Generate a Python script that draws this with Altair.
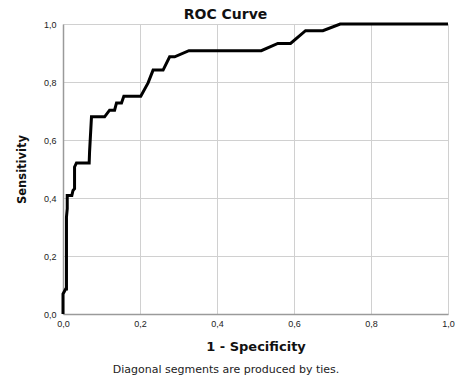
import altair as alt
import pandas as pd

fpr = [0, 0, 0.007, 0.009, 0.009, 0.011, 0.011, 0.023, 0.026, 0.030, 0.030, 0.035,
       0.068, 0.069, 0.074, 0.108, 0.121, 0.134, 0.139, 0.152, 0.158, 0.202, 0.221,
       0.234, 0.26, 0.277, 0.29, 0.327, 0.515, 0.558, 0.591, 0.630, 0.675, 0.72, 1.0]
tpr = [0, 0.069, 0.086, 0.086, 0.334, 0.363, 0.409, 0.409, 0.426, 0.432, 0.507, 0.521,
       0.521, 0.559, 0.68, 0.68, 0.703, 0.703, 0.728, 0.728, 0.751, 0.751, 0.797,
       0.841, 0.841, 0.887, 0.887, 0.908, 0.908, 0.933, 0.933, 0.977, 0.977, 1.0, 1.0]

df = pd.DataFrame({"fpr": fpr, "tpr": tpr, "i": list(range(len(fpr)))})

FONT = "Liberation Sans"
WIDE = "DejaVu Sans"
lab = "replace(format(datum.value, '.1f'), '.', ',')"

line = alt.Chart(df).mark_line(color="black", strokeWidth=3, strokeJoin="miter",
                               strokeMiterLimit=2).encode(
    x=alt.X("fpr:Q", scale=alt.Scale(domain=[0, 1], nice=False),
            axis=alt.Axis(values=[0, 0.2, 0.4, 0.6, 0.8, 1.0], labelExpr=lab,
                          labelFlush=False,
                          title="1 - Specificity", titleFontSize=13, titleFontWeight="bold",
                          titleFont=WIDE, titlePadding=12, labelPadding=5)),
    y=alt.Y("tpr:Q", scale=alt.Scale(domain=[0, 1], nice=False),
            axis=alt.Axis(values=[0, 0.2, 0.4, 0.6, 0.8, 1.0], labelExpr=lab,
                          labelFlush=False,
                          title="Sensitivity", titleFontSize=11.5, titleFontWeight="bold",
                          titleFont=WIDE, titlePadding=16, labelPadding=7)),
    order="i:Q",
)

footer = alt.Chart(pd.DataFrame({"t": ["Diagonal segments are produced by ties."]})).mark_text(
    font=WIDE, fontSize=11, color="#222222", align="center", baseline="middle"
).encode(x=alt.value(163), y=alt.value(346), text="t:N")

chart = alt.layer(line, footer).properties(
    width=385, height=290,
    title=alt.TitleParams("ROC Curve", fontSize=14, fontWeight="bold", font=WIDE,
                          anchor="middle", offset=-2, dx=-30, color="#111111"),
    autosize=alt.AutoSizeParams(type="none"),
    padding={"left": 63, "top": 24, "right": 11, "bottom": 66},
).configure_view(stroke=None).configure_axis(
    labelFont=FONT, labelFontSize=9, labelColor="#222222",
    titleColor="#111111", domainColor="#9a9a9a", domainWidth=1.5, ticks=False,
    gridColor="#d0d0d0", gridWidth=1,
)

chart.save("out.html", embed_options={"renderer": "svg", "actions": False})
